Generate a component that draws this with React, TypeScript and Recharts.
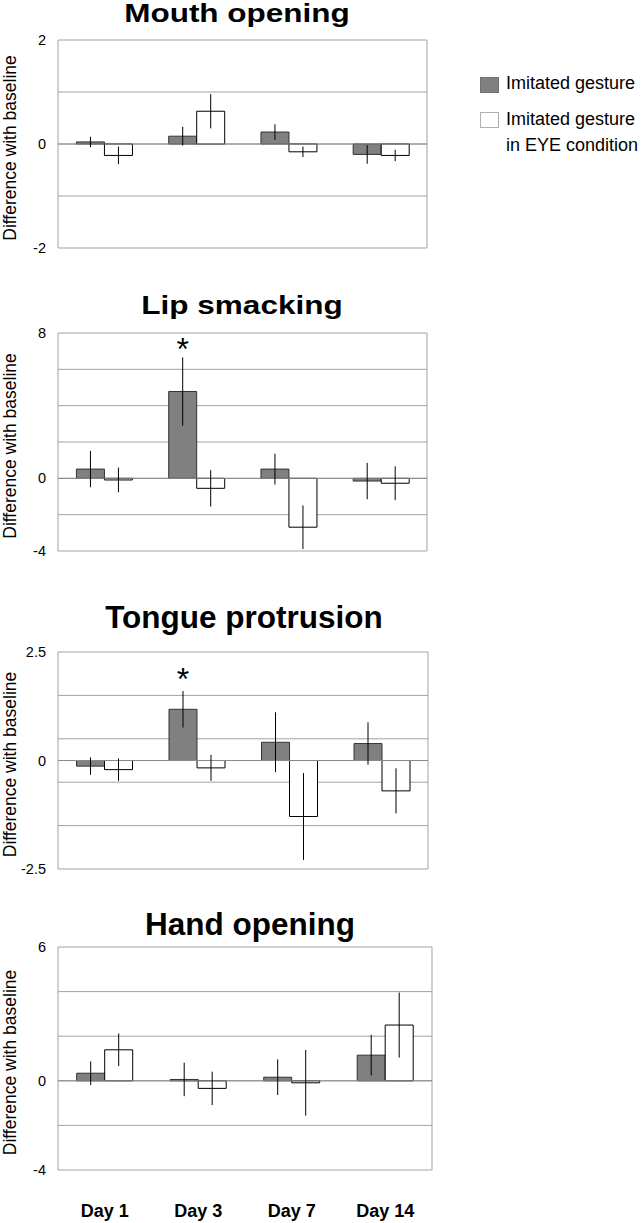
import React from "react";
import {
  BarChart,
  Bar,
  XAxis,
  YAxis,
  CartesianGrid,
  ReferenceLine,
  ErrorBar,
  LabelList,
} from "recharts";

// Valeurs (moyenne ± erreur, différence avec la baseline)
const DAYS = ["Day 1", "Day 3", "Day 7", "Day 14"];
const SERIES_NAMES = ["Imitated gesture", "Imitated gesture in EYE condition"];

const mouthImitated = [0.04, 0.15, 0.23, -0.2];
const mouthImitatedErr = [0.1, 0.18, 0.15, 0.18];
const mouthEye = [-0.22, 0.63, -0.15, -0.22];
const mouthEyeErr = [0.17, 0.33, 0.1, 0.11];

const lipImitated = [0.51, 4.78, 0.51, -0.15];
const lipImitatedErr = [1.0, 1.88, 0.85, 1.0];
const lipEye = [-0.09, -0.55, -2.69, -0.27];
const lipEyeErr = [0.68, 1.0, 1.2, 0.93];
const lipStar = [null, 7.4, null, null];

const tongueImitated = [-0.13, 1.18, 0.42, 0.39];
const tongueImitatedErr = [0.2, 0.42, 0.69, 0.49];
const tongueEye = [-0.21, -0.17, -1.29, -0.7];
const tongueEyeErr = [0.26, 0.3, 1.0, 0.52];
const tongueStar = [null, 2.0, null, null];

const handImitated = [0.34, 0.06, 0.16, 1.15];
const handImitatedErr = [0.53, 0.75, 0.8, 0.91];
const handEye = [1.39, -0.34, -0.09, 2.5];
const handEyeErr = [0.73, 0.75, 1.47, 1.46];

// graduations : lignes de grille + libellés affichés (seulement haut, zéro, bas)
const mouthTicks = [-2, -1, 0, 1, 2];
const mouthLabels = [-2, 0, 2];
const lipTicks = [-4, -2, 0, 2, 4, 6, 8];
const lipLabels = [-4, 0, 8];
const tongueTicks = [-2.5, -1.5, -0.5, 0, 0.5, 1.5, 2.5];
const tongueLabels = [-2.5, 0, 2.5];
const handTicks = [-4, -2, 0, 2, 4, 6];
const handLabels = [-4, 0, 6];

const FONT = '"Liberation Sans", Arial, Helvetica, sans-serif';
const GRAY = "#808080";
const GRID = "#a3a3a3";

type Row = {
  day: string;
  g: number;
  gErr: number;
  e: number;
  eErr: number;
  star: number | null;
};

function buildRows(
  g: number[],
  gErr: number[],
  e: number[],
  eErr: number[],
  star?: (number | null)[]
): Row[] {
  return DAYS.map((day, i) => ({
    day,
    g: g[i],
    gErr: gErr[i],
    e: e[i],
    eErr: eErr[i],
    star: star ? star[i] : null,
  }));
}

type PanelCfg = {
  title: string;
  rows: Row[];
  domain: [number, number];
  ticks: number[];
  labels: number[];
  top: number;
  height: number;
  mt: number;
  mr: number;
  titleX: number;
  titleBaseline: number;
  titleScale: number;
  showDays?: boolean;
};

const PANELS: PanelCfg[] = [
  {
    title: "Mouth opening",
    rows: buildRows(mouthImitated, mouthImitatedErr, mouthEye, mouthEyeErr),
    domain: [-2, 2],
    ticks: mouthTicks,
    labels: mouthLabels,
    top: 0,
    height: 260,
    mt: 40,
    mr: 13,
    titleX: 237,
    titleBaseline: 23,
    titleScale: 0.82,
  },
  {
    title: "Lip smacking",
    rows: buildRows(lipImitated, lipImitatedErr, lipEye, lipEyeErr, lipStar),
    domain: [-4, 8],
    ticks: lipTicks,
    labels: lipLabels,
    top: 290,
    height: 273,
    mt: 43,
    mr: 13,
    titleX: 242,
    titleBaseline: 315,
    titleScale: 0.82,
  },
  {
    title: "Tongue protrusion",
    rows: buildRows(tongueImitated, tongueImitatedErr, tongueEye, tongueEyeErr, tongueStar),
    domain: [-2.5, 2.5],
    ticks: tongueTicks,
    labels: tongueLabels,
    top: 590,
    height: 291,
    mt: 62,
    mr: 12,
    titleX: 244,
    titleBaseline: 629,
    titleScale: 1,
  },
  {
    title: "Hand opening",
    rows: buildRows(handImitated, handImitatedErr, handEye, handEyeErr),
    domain: [-4, 6],
    ticks: handTicks,
    labels: handLabels,
    top: 900,
    height: 323,
    mt: 47,
    mr: 8,
    titleX: 250,
    titleBaseline: 936,
    titleScale: 0.97,
    showDays: true,
  },
];

// astérisque de significativité, placé à la valeur "star" via l'échelle de la barre
function starRenderer(rows: Row[]) {
  return (props: any) => {
    const { value, index } = props;
    if (value == null) return null;
    const vb = props.viewBox ?? props;
    const { x, y, width, height } = vb;
    const g = rows[index].g;
    const px = Math.abs(height) / Math.abs(g);
    const zeroY = g >= 0 ? y + Math.abs(height) : y;
    const cy = zeroY - value * px;
    return (
      <text x={x + width / 2} y={cy + 16} textAnchor="middle" fontSize={32} fontFamily={FONT} fill="#000">
        *
      </text>
    );
  };
}

function DayTick({ x, y, payload }: any) {
  return (
    <text x={x} y={y + 47} textAnchor="middle" fontSize={18} fontWeight="bold" fontFamily={FONT} fill="#000">
      {payload.value}
    </text>
  );
}

function Panel({ cfg }: { cfg: PanelCfg }) {
  return (
    <>
      <div
        style={{
          position: "absolute",
          left: cfg.titleX - 200,
          width: 400,
          top: cfg.titleBaseline - 26.6,
          textAlign: "center",
          fontSize: 31.5,
          lineHeight: "31.5px",
          fontWeight: "bold",
          whiteSpace: "nowrap",
          transform: `scaleY(${cfg.titleScale})`,
          transformOrigin: "50% 26.6px",
        }}
      >
        {cfg.title}
      </div>
      <div style={{ position: "absolute", left: 0, top: cfg.top }}>
        <BarChart
          width={440}
          height={cfg.height}
          data={cfg.rows}
          margin={{ top: cfg.mt, right: cfg.mr, bottom: cfg.showDays ? 0 : 12, left: 0 }}
          barCategoryGap="20%"
          barGap={0}
        >
          <CartesianGrid
            stroke={GRID}
            verticalCoordinatesGenerator={({ offset }: any) => [offset.left, offset.left + offset.width]}
          />
          {cfg.showDays ? (
            <XAxis
              dataKey="day"
              axisLine={false}
              tickLine={false}
              tickSize={0}
              tickMargin={0}
              height={53}
              interval={0}
              tick={<DayTick />}
            />
          ) : (
            <XAxis dataKey="day" hide />
          )}
          <YAxis
            type="number"
            domain={cfg.domain}
            ticks={cfg.ticks}
            interval={0}
            allowDataOverflow
            axisLine={false}
            tickLine={false}
            tickSize={0}
            tickMargin={12}
            width={58}
            tick={{ fontSize: 14.5, fill: "#000", fontFamily: FONT }}
            tickFormatter={(v: number) => (cfg.labels.includes(v) ? String(v) : "")}
            label={{
              value: "Difference with baseline",
              angle: -90,
              position: "insideLeft",
              offset: 10,
              dy: 4,
              style: { textAnchor: "middle", fontSize: 17.5, fill: "#000", fontFamily: FONT },
            }}
          />
          <ReferenceLine y={0} stroke="#8a8a8a" />
          <Bar dataKey="g" name={SERIES_NAMES[0]} fill={GRAY} stroke="#333" strokeWidth={1} isAnimationActive={false}>
            <ErrorBar dataKey="gErr" width={0} stroke="#000" strokeWidth={1} isAnimationActive={false} />
            <LabelList dataKey="star" content={starRenderer(cfg.rows)} />
          </Bar>
          <Bar dataKey="e" name={SERIES_NAMES[1]} fill="#fff" stroke="#000" strokeWidth={1} isAnimationActive={false}>
            <ErrorBar dataKey="eErr" width={0} stroke="#000" strokeWidth={1} isAnimationActive={false} />
          </Bar>
        </BarChart>
      </div>
    </>
  );
}

function LegendBox() {
  const sq = { position: "absolute" as const, left: 480, width: 19, height: 16, boxSizing: "border-box" as const };
  const txt = { position: "absolute" as const, left: 506, fontSize: 18, lineHeight: "26px", whiteSpace: "nowrap" as const };
  return (
    <>
      <div style={{ ...sq, top: 77, background: GRAY, border: "1px solid #707070" }} />
      <div style={{ ...txt, top: 70 }}>{SERIES_NAMES[0]}</div>
      <div style={{ ...sq, top: 112, background: "#fff", border: "1px solid #b0b0b0" }} />
      <div style={{ ...txt, top: 106 }}>
        Imitated gesture
        <br />
        in EYE condition
      </div>
    </>
  );
}

export default function App() {
  return (
    <div
      style={{
        position: "absolute",
        left: 0,
        top: 0,
        width: 644,
        height: 1223,
        overflow: "hidden",
        background: "#fff",
        fontFamily: FONT,
        color: "#000",
      }}
    >
      {PANELS.map((p) => (
        <Panel key={p.title} cfg={p} />
      ))}
      <LegendBox />
    </div>
  );
}
